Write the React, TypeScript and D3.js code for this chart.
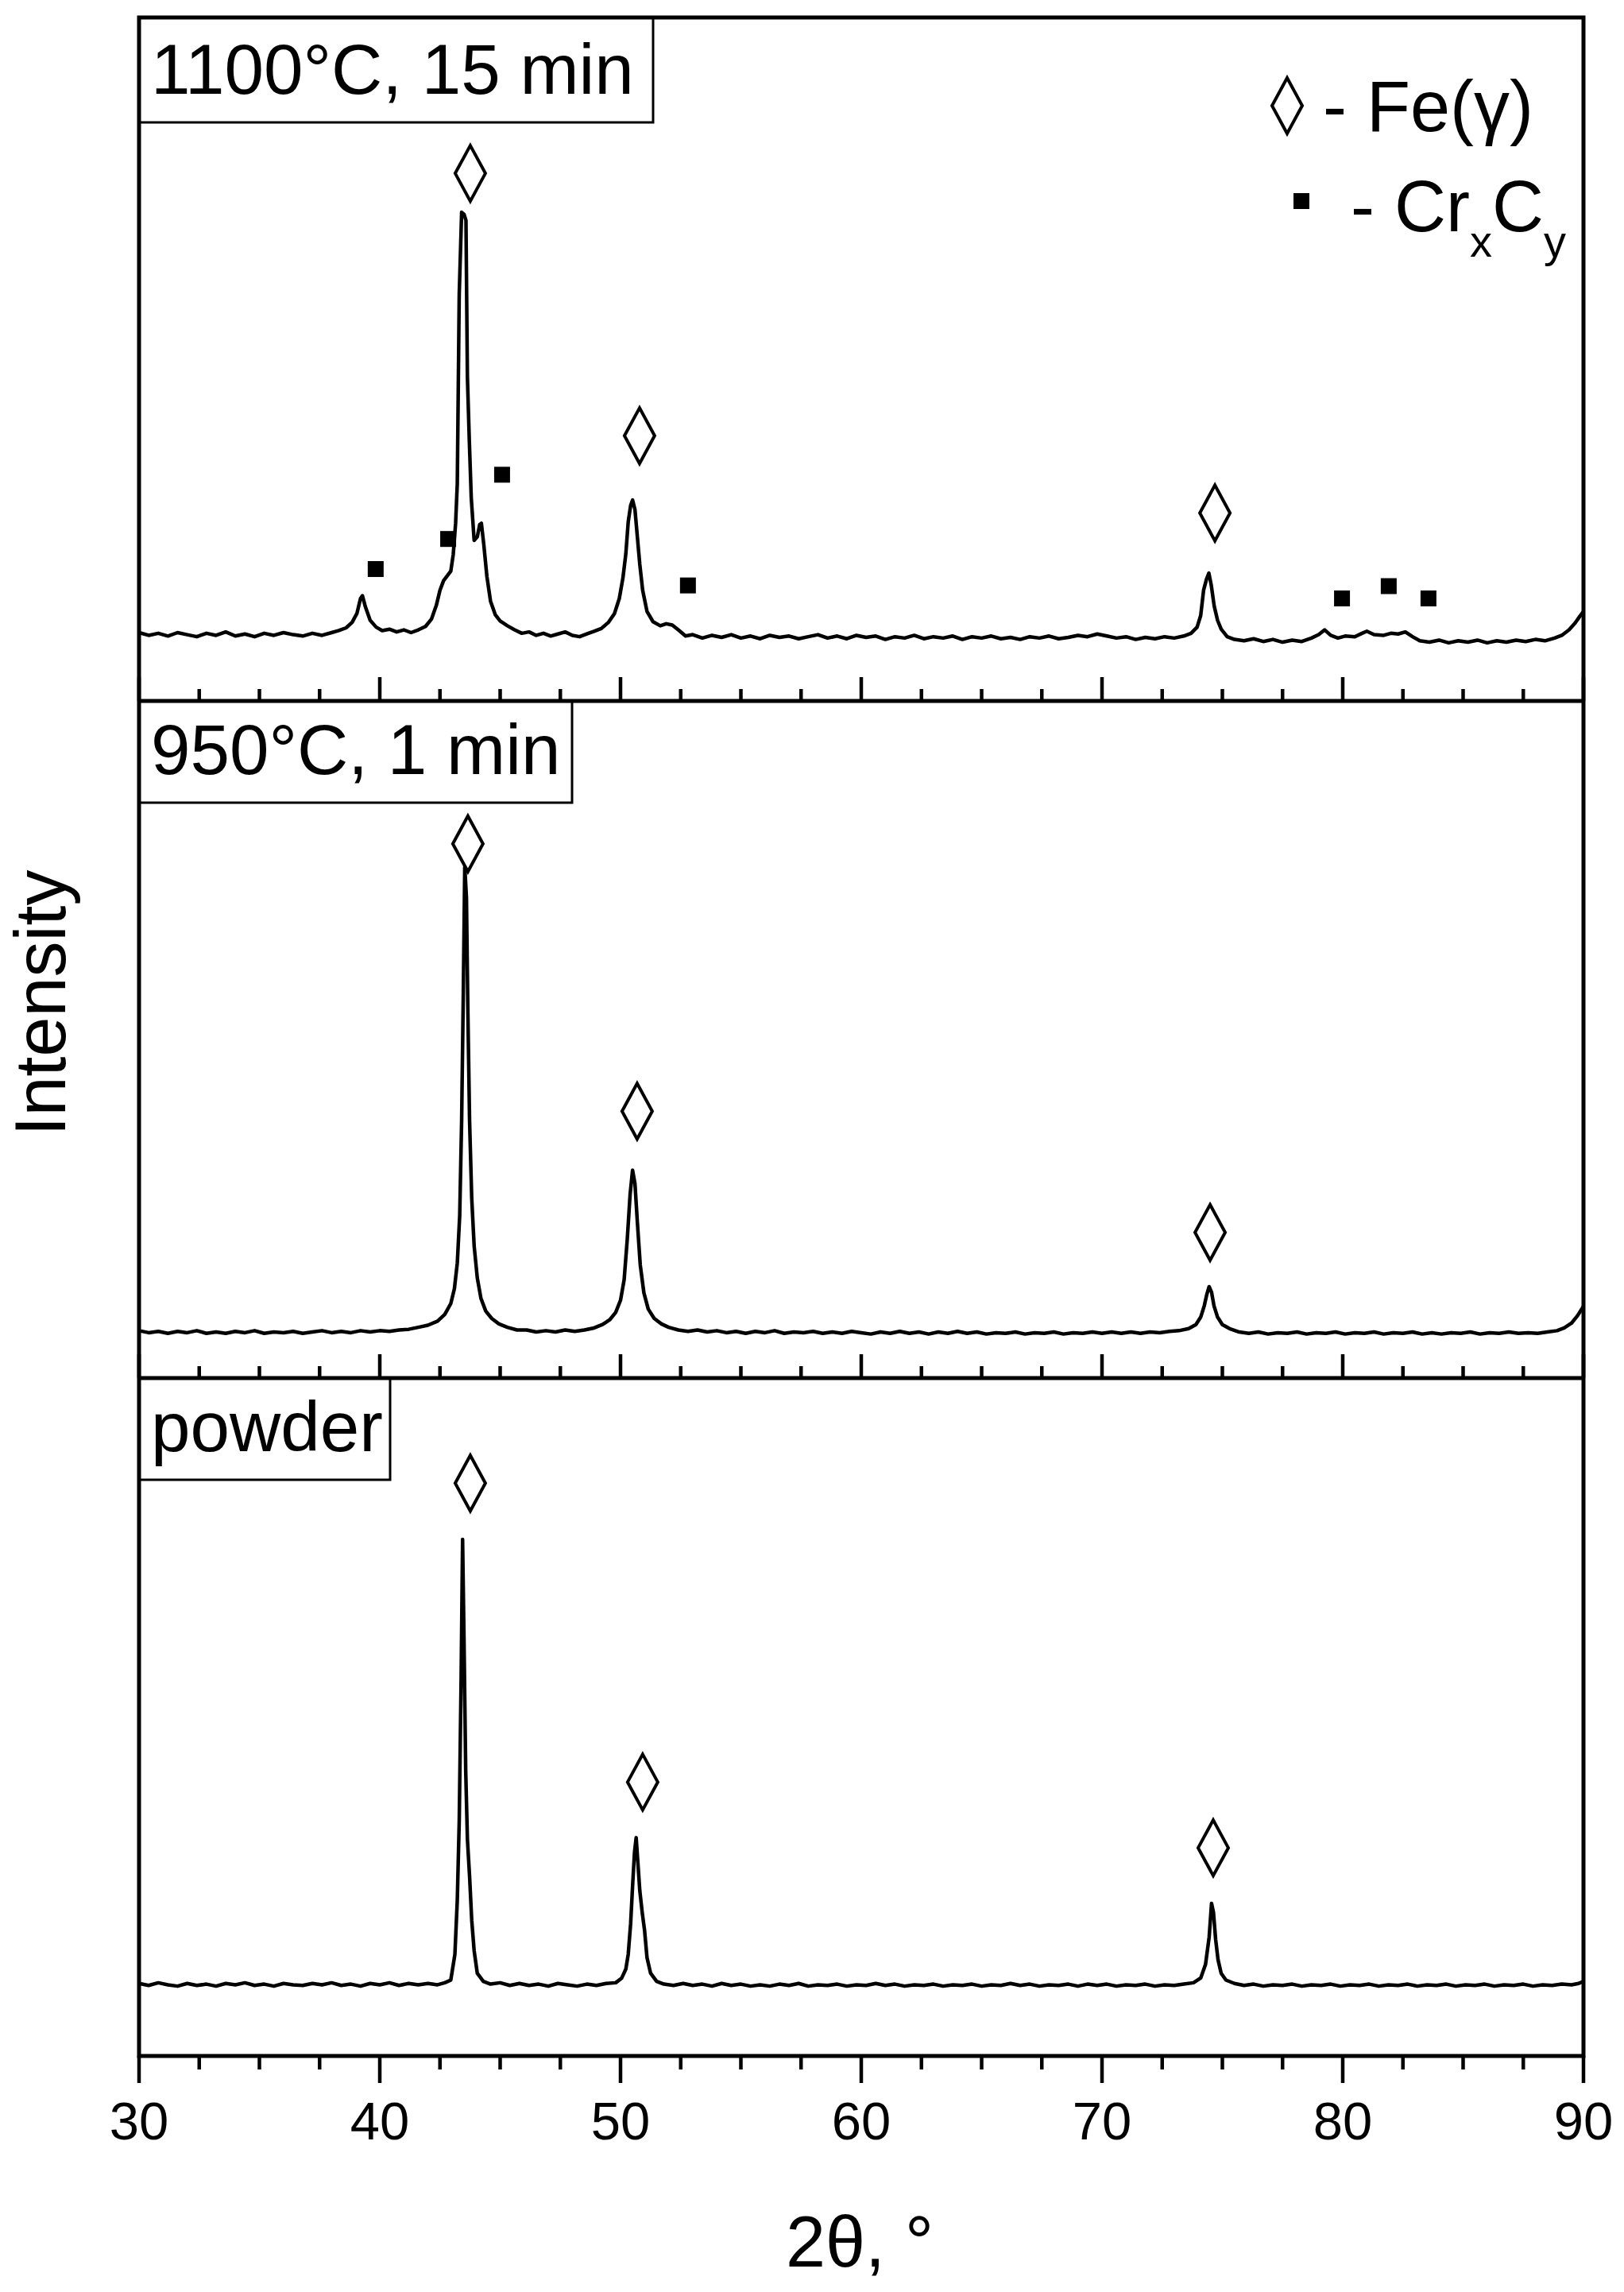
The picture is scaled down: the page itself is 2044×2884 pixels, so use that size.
import React from "react";
import * as d3 from "d3";

// ---------- data (2θ in degrees, intensity in arbitrary units per panel) ----------
const xTicksMajor = [30, 40, 50, 60, 70, 80, 90];
const panelLabels = ["1100°C, 15 min", "950°C, 1 min", "powder"];

const pattern1100: [number, number][] = [
  [30.0,100],[30.4,96],[30.8,99],[31.2,95],[31.6,100],[32.0,97],[32.4,94],[32.8,99],[33.2,96],[33.6,101],[34.0,95],[34.4,98],[34.8,94],[35.2,99],[35.6,96],[36.0,100],[36.4,97],[36.8,95],[37.2,99],[37.6,96],[38.0,100],[38.3,103],[38.6,107],[38.85,115],[39.05,128],[39.2,150],[39.28,154],[39.4,138],[39.6,118],[39.85,108],[40.1,103],[40.4,105],[40.7,101],[41.0,104],[41.3,100],[41.6,104],[41.9,109],[42.15,120],[42.35,140],[42.5,162],[42.65,176],[42.8,183],[42.95,190],[43.05,214],[43.15,260],[43.22,318],[43.3,595],[43.4,715],[43.5,712],[43.58,703],[43.64,474],[43.72,380],[43.8,297],[43.92,235],[44.05,240],[44.15,258],[44.22,260],[44.32,229],[44.45,182],[44.6,146],[44.8,126],[45.0,117],[45.3,110],[45.6,104],[45.9,99],[46.2,101],[46.5,96],[46.8,99],[47.1,95],[47.4,98],[47.7,101],[48.0,96],[48.3,94],[48.6,98],[48.9,102],[49.2,106],[49.5,115],[49.75,128],[49.95,150],[50.1,180],[50.22,215],[50.32,262],[50.42,286],[50.5,294],[50.6,280],[50.7,240],[50.8,200],[50.92,162],[51.1,131],[51.35,116],[51.65,110],[51.9,113],[52.15,111],[52.4,104],[52.7,95],[53.0,97],[53.4,92],[53.8,96],[54.2,93],[54.6,97],[55.0,92],[55.4,95],[55.8,91],[56.2,96],[56.6,93],[57.0,95],[57.4,91],[57.8,94],[58.2,97],[58.6,92],[59.0,95],[59.4,91],[59.8,96],[60.2,93],[60.6,95],[61.0,90],[61.4,94],[61.8,92],[62.2,96],[62.6,91],[63.0,94],[63.4,92],[63.8,95],[64.2,90],[64.6,94],[65.0,92],[65.4,95],[65.8,91],[66.2,93],[66.6,90],[67.0,94],[67.4,92],[67.8,95],[68.2,91],[68.6,93],[69.0,96],[69.4,94],[69.8,98],[70.2,95],[70.6,92],[71.0,94],[71.4,90],[71.8,93],[72.2,91],[72.6,94],[73.0,92],[73.4,95],[73.7,99],[73.95,108],[74.1,125],[74.22,162],[74.34,178],[74.44,187],[74.54,169],[74.66,139],[74.8,118],[74.95,105],[75.2,94],[75.5,90],[75.9,88],[76.3,91],[76.7,87],[77.1,90],[77.5,86],[77.9,89],[78.3,87],[78.7,92],[79.0,97],[79.25,104],[79.5,96],[79.8,92],[80.1,95],[80.5,94],[80.8,99],[81.0,102],[81.3,97],[81.7,96],[82.0,99],[82.3,98],[82.6,101],[82.9,94],[83.2,88],[83.6,86],[84.0,89],[84.4,85],[84.8,88],[85.2,86],[85.6,89],[86.0,85],[86.4,88],[86.8,86],[87.2,89],[87.6,87],[88.0,90],[88.4,88],[88.8,92],[89.1,96],[89.4,104],[89.65,114],[89.85,124],[90.0,131]
];

const pattern950: [number, number][] = [
  [30.0,70],[30.4,67],[30.8,69],[31.2,66],[31.6,69],[32.0,67],[32.4,70],[32.8,66],[33.2,68],[33.6,66],[34.0,69],[34.4,67],[34.8,70],[35.2,66],[35.6,68],[36.0,67],[36.4,69],[36.8,66],[37.2,68],[37.6,70],[38.0,67],[38.4,69],[38.8,67],[39.2,70],[39.6,68],[40.0,70],[40.4,69],[40.8,71],[41.2,72],[41.6,75],[42.0,78],[42.4,84],[42.7,94],[42.95,110],[43.1,132],[43.22,170],[43.32,240],[43.4,380],[43.47,570],[43.53,755],[43.6,710],[43.66,540],[43.73,380],[43.82,265],[43.92,195],[44.05,148],[44.2,118],[44.4,99],[44.65,88],[44.95,80],[45.3,75],[45.7,71],[46.1,71],[46.5,68],[46.9,70],[47.3,68],[47.7,71],[48.1,69],[48.5,71],[48.9,74],[49.25,79],[49.55,86],[49.8,97],[50.0,115],[50.15,145],[50.28,205],[50.4,272],[50.5,307],[50.6,287],[50.7,230],[50.82,167],[50.97,126],[51.15,102],[51.4,88],[51.7,80],[52.0,75],[52.4,71],[52.8,69],[53.2,71],[53.6,68],[54.0,70],[54.4,67],[54.8,69],[55.2,66],[55.6,69],[56.0,67],[56.4,70],[56.8,66],[57.2,68],[57.6,67],[58.0,69],[58.4,66],[58.8,68],[59.2,66],[59.6,69],[60.0,67],[60.4,65],[60.8,68],[61.2,66],[61.6,69],[62.0,66],[62.4,68],[62.8,65],[63.2,68],[63.6,66],[64.0,69],[64.4,66],[64.8,68],[65.2,65],[65.6,67],[66.0,66],[66.4,68],[66.8,65],[67.2,67],[67.6,66],[68.0,68],[68.4,65],[68.8,67],[69.2,66],[69.6,68],[70.0,66],[70.4,68],[70.8,66],[71.2,68],[71.6,66],[72.0,68],[72.4,67],[72.8,69],[73.2,70],[73.6,73],[73.9,79],[74.1,90],[74.25,107],[74.35,123],[74.45,135],[74.55,127],[74.65,107],[74.8,90],[75.0,79],[75.3,73],[75.7,68],[76.1,66],[76.5,68],[76.9,65],[77.3,67],[77.7,66],[78.1,68],[78.5,65],[78.9,67],[79.3,66],[79.7,68],[80.1,65],[80.5,67],[80.9,66],[81.3,68],[81.7,65],[82.1,67],[82.5,66],[82.9,68],[83.3,65],[83.7,67],[84.1,65],[84.5,67],[84.9,66],[85.3,68],[85.7,65],[86.1,67],[86.5,66],[86.9,68],[87.3,66],[87.7,67],[88.1,66],[88.5,68],[88.9,70],[89.2,74],[89.5,81],[89.75,92],[90.0,106]
];

const patternPowder: [number, number][] = [
  [30.0,107],[30.4,104],[30.8,108],[31.2,105],[31.6,103],[32.0,107],[32.4,104],[32.8,106],[33.2,103],[33.6,107],[34.0,105],[34.4,108],[34.8,104],[35.2,106],[35.6,103],[36.0,107],[36.4,105],[36.8,104],[37.2,107],[37.6,105],[38.0,108],[38.4,104],[38.8,106],[39.2,103],[39.6,107],[40.0,105],[40.4,108],[40.8,104],[41.2,107],[41.6,105],[42.0,107],[42.4,105],[42.7,108],[42.95,112],[43.12,150],[43.22,230],[43.3,346],[43.38,560],[43.44,762],[43.5,612],[43.57,420],[43.64,320],[43.73,265],[43.82,200],[43.92,155],[44.05,122],[44.3,110],[44.6,106],[45.0,108],[45.4,104],[45.8,107],[46.2,104],[46.6,106],[47.0,103],[47.4,107],[47.8,105],[48.2,103],[48.6,106],[49.0,104],[49.4,107],[49.8,108],[50.05,115],[50.22,128],[50.32,150],[50.42,195],[50.5,250],[50.58,300],[50.65,322],[50.72,286],[50.8,244],[50.9,212],[51.0,185],[51.1,145],[51.25,122],[51.5,110],[51.8,106],[52.2,104],[52.6,107],[53.0,104],[53.4,106],[53.8,103],[54.2,107],[54.6,104],[55.0,106],[55.4,103],[55.8,105],[56.2,103],[56.6,106],[57.0,104],[57.4,107],[57.8,103],[58.2,105],[58.6,104],[59.0,106],[59.4,103],[59.8,105],[60.2,104],[60.6,107],[61.0,104],[61.4,106],[61.8,103],[62.2,105],[62.6,104],[63.0,106],[63.4,103],[63.8,105],[64.2,104],[64.6,106],[65.0,103],[65.4,105],[65.8,104],[66.2,107],[66.6,104],[67.0,106],[67.4,103],[67.8,105],[68.2,104],[68.6,106],[69.0,103],[69.4,106],[69.8,104],[70.2,106],[70.6,103],[71.0,105],[71.4,104],[71.8,106],[72.2,103],[72.6,105],[73.0,104],[73.4,106],[73.8,108],[74.1,115],[74.3,135],[74.45,175],[74.55,225],[74.63,212],[74.72,172],[74.82,142],[74.95,122],[75.15,112],[75.5,107],[75.9,104],[76.3,106],[76.7,103],[77.1,105],[77.5,104],[77.9,106],[78.3,103],[78.7,105],[79.1,104],[79.5,106],[79.9,103],[80.3,105],[80.7,104],[81.1,106],[81.5,103],[81.9,105],[82.3,104],[82.7,106],[83.1,103],[83.5,105],[83.9,104],[84.3,106],[84.7,103],[85.1,105],[85.5,104],[85.9,106],[86.3,103],[86.7,105],[87.1,104],[87.5,106],[87.9,103],[88.3,105],[88.7,104],[89.1,106],[89.5,105],[89.8,107],[90.0,110]
];

// phase markers [2θ, intensity]
const fe1100: [number, number][] = [[43.76, 772], [50.79, 388], [74.69, 275]];
const crc1100: [number, number][] = [[39.83, 193], [42.84, 237], [45.08, 331], [52.8, 169], [79.97, 150], [81.91, 168], [83.56, 150]];
const fe950: [number, number][] = [[43.66, 789], [50.69, 394], [74.49, 215]];
const fePowder: [number, number][] = [[43.76, 845], [50.92, 404], [74.62, 307]];

// ---------- layout ----------
const W = 2044, H = 2884;
const L = 175, R = 1993;
const panelBounds = [
  { top: 22, bottom: 882, labelW: 647 },
  { top: 882, bottom: 1734, labelW: 545 },
  { top: 1734, bottom: 2587, labelW: 316 },
];
const FONT = "'Liberation Sans', Arial, Helvetica, sans-serif";

const diamondPath = (cx: number, cy: number) => {
  const hw = 19, hh = 35;
  return `M${cx},${cy - hh}L${cx + hw},${cy}L${cx},${cy + hh}L${cx - hw},${cy}Z`;
};

export default function App() {
  const x = d3.scaleLinear().domain([30, 90]).range([L, R]);
  const minorTicks = d3.range(30, 90.001, 2.5).filter((v) => !xTicksMajor.includes(v));
  const patterns = [pattern1100, pattern950, patternPowder];
  const feSets = [fe1100, fe950, fePowder];

  return (
    <svg width={W} height={H} style={{ position: "absolute", left: 0, top: 0, background: "#fff" }} fontFamily={FONT}>
      <rect x={0} y={0} width={W} height={H} fill="#fff" />
      {panelBounds.map((p, i) => {
        const y = d3.scaleLinear().domain([0, 1000]).range([p.bottom, p.top]);
        const line = d3.line<[number, number]>().x((d) => x(d[0])).y((d) => y(d[1]));
        return (
          <g key={i}>
            <path d={line(patterns[i]) || ""} fill="none" stroke="#000" strokeWidth={4.5} strokeLinejoin="round" />
            {feSets[i].map((m, j) => (
              <path key={j} d={diamondPath(x(m[0]), y(m[1]))} fill="none" stroke="#000" strokeWidth={4} />
            ))}
            {i === 0 &&
              crc1100.map((m, j) => (
                <rect key={"c" + j} x={x(m[0]) - 10} y={y(m[1]) - 10} width={20} height={20} fill="#000" />
              ))}
            {i < 2 &&
              xTicksMajor.map((v) => (
                <line key={"M" + v} x1={x(v)} x2={x(v)} y1={p.bottom} y2={p.bottom - 30} stroke="#000" strokeWidth={4.5} />
              ))}
            {i < 2 &&
              minorTicks.map((v) => (
                <line key={"m" + v} x1={x(v)} x2={x(v)} y1={p.bottom} y2={p.bottom - 15} stroke="#000" strokeWidth={4.5} />
              ))}
            <rect x={L} y={p.top} width={p.labelW} height={i === 0 ? 132 : 128} fill="#fff" stroke="#000" strokeWidth={3} />
            <text x={L + 15} y={p.top + (i === 0 ? 96 : 92)} fontSize={89} fill="#000">
              {panelLabels[i]}
            </text>
          </g>
        );
      })}

      <rect x={L} y={panelBounds[0].top} width={R - L} height={panelBounds[2].bottom - panelBounds[0].top} fill="none" stroke="#000" strokeWidth={5} />
      <line x1={L} x2={R} y1={panelBounds[0].bottom} y2={panelBounds[0].bottom} stroke="#000" strokeWidth={5} />
      <line x1={L} x2={R} y1={panelBounds[1].bottom} y2={panelBounds[1].bottom} stroke="#000" strokeWidth={5} />

      {xTicksMajor.map((v) => (
        <g key={"b" + v}>
          <line x1={x(v)} x2={x(v)} y1={2587} y2={2621} stroke="#000" strokeWidth={4.5} />
          <text x={x(v)} y={2692} fontSize={67} textAnchor="middle" fill="#000">
            {v}
          </text>
        </g>
      ))}
      {minorTicks.map((v) => (
        <line key={"bm" + v} x1={x(v)} x2={x(v)} y1={2587} y2={2604} stroke="#000" strokeWidth={4.5} />
      ))}

      <text x={1082} y={2852} fontSize={90} textAnchor="middle" fill="#000">
        2θ, °
      </text>
      <text transform="translate(82,1262) rotate(-90)" fontSize={90} textAnchor="middle" fill="#000">
        Intensity
      </text>

      <path d={diamondPath(1620, 133)} fill="none" stroke="#000" strokeWidth={4} />
      <text x={1665} y={165} fontSize={90} fill="#000">
        - Fe(γ)
      </text>
      <rect x={1628} y={243} width={20} height={20} fill="#000" />
      <text x={1700} y={291} fontSize={90} fill="#000">
        <tspan>- Cr</tspan>
        <tspan fontSize={56} dy={32}>x</tspan>
        <tspan dy={-32}>C</tspan>
        <tspan fontSize={56} dy={32}>y</tspan>
      </text>
    </svg>
  );
}
